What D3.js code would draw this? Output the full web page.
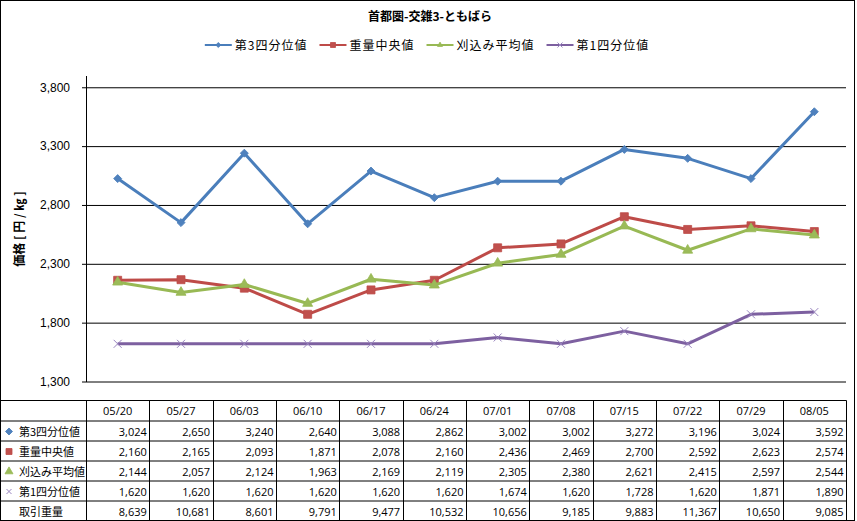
<!DOCTYPE html>
<meta charset="utf-8">
<head>
<style>
  body { margin: 0; background: #fff; }
  svg { display: block; font-family: "Open Sans", "Noto Sans CJK JP", sans-serif; }
  .title { font-family: "Noto Sans CJK JP", sans-serif; font-size: 12px; font-weight: 700; text-anchor: middle; }
  .legend text { font-family: "Noto Sans CJK JP", sans-serif; font-size: 12px; letter-spacing: 1px; }
  .y-title { font-family: "Noto Sans CJK JP", sans-serif; font-size: 12px; font-weight: 700; text-anchor: middle; }
  .y-axis text { font-size: 12px; fill: #000; }
  .y-axis line, .y-axis path, .grid line { stroke: #000; }
  .cell { font-size: 11px; fill: #000; }
  .row-label { font-family: "Noto Sans CJK JP", sans-serif; font-size: 11px; }
</style>
</head>

<script src="https://d3js.org/d3.v7.min.js"></script>

<div id="chart"></div>

<script>
  // data
  const dates = ["05/20", "05/27", "06/03", "06/10", "06/17", "06/24", "07/01", "07/08", "07/15", "07/22", "07/29", "08/05"];
  const q3 = [3024, 2650, 3240, 2640, 3088, 2862, 3002, 3002, 3272, 3196, 3024, 3592];
  const median = [2160, 2165, 2093, 1871, 2078, 2160, 2436, 2469, 2700, 2592, 2623, 2574];
  const trimmed = [2144, 2057, 2124, 1963, 2169, 2119, 2305, 2380, 2621, 2415, 2597, 2544];
  const q1 = [1620, 1620, 1620, 1620, 1620, 1620, 1674, 1620, 1728, 1620, 1871, 1890];
  const volume = [8639, 10681, 8601, 9791, 9477, 10532, 10656, 9185, 9883, 11367, 10650, 9085];
  const yTicks = [1300, 1800, 2300, 2800, 3300, 3800];
  const yDomain = [1300, 3900];

  const series = [
    { name: "第3四分位値", values: q3, line: "#4A7EBB", fill: "#4F81BD", marker: "diamond" },
    { name: "重量中央値", values: median, line: "#BE4B48", fill: "#C0504D", marker: "square" },
    { name: "刈込み平均値", values: trimmed, line: "#98B954", fill: "#9BBB59", marker: "triangle" },
    { name: "第1四分位値", values: q1, line: "#7D60A0", fill: "#8064A2", marker: "x" }
  ];

  const W = 857, H = 521;
  const plot = { left: 86, right: 846, top: 75.5, bottom: 381.5 };
  const table = { top: 400.5, header: 20.5, row: 20 };

  const svg = d3.select("#chart").append("svg")
    .attr("width", W).attr("height", H);

  svg.append("rect")
    .attr("x", 0.5).attr("y", 0.5)
    .attr("width", 854).attr("height", 520)
    .attr("fill", "#fff").attr("stroke", "#000");

  const x = d3.scaleBand().domain(dates).range([plot.left, plot.right]);
  const y = d3.scaleLinear().domain(yDomain).range([plot.bottom, plot.top]);

  function marker(type, s) {
    if (type === "diamond") return d3.symbol(d3.symbolSquare, s * s / 2)();
    if (type === "square") return d3.symbol(d3.symbolSquare, s * s)();
    if (type === "triangle") return d3.symbol(d3.symbolTriangle, Math.sqrt(3) / 4 * s * s)();
    const h = s / 2;
    return `M${-h},${-h}L${h},${h}M${-h},${h}L${h},${-h}`;
  }

  function drawMarker(g, s, type, size) {
    g.append("path")
      .attr("d", marker(type, size))
      .attr("transform", type === "diamond" ? "rotate(45)" : null)
      .attr("fill", type === "x" ? "none" : s.fill)
      .attr("stroke", type === "x" ? "#9A86C0" : s.line)
      .attr("stroke-width", type === "x" ? 1 : 0.8);
  }

  // title
  svg.append("text").attr("class", "title")
    .attr("x", 430).attr("y", 21)
    .text("首都圏-交雑3-ともばら");

  // legend
  const legend = svg.append("g").attr("class", "legend");
  let lx = 0;
  series.forEach(s => {
    const item = legend.append("g").attr("transform", `translate(${lx},0)`);
    item.append("line").attr("x1", 0).attr("x2", 27)
      .attr("y1", 0).attr("y2", 0)
      .attr("stroke", s.line).attr("stroke-width", 2);
    drawMarker(item.append("g").attr("transform", "translate(13.5,0)"), s, s.marker, 5);
    const t = item.append("text").attr("x", 30).attr("y", 4.5).text(s.name);
    lx += 30 + t.node().getComputedTextLength() + 12;
  });
  const legendW = lx - 12;
  legend.attr("transform", `translate(${427 - legendW / 2},45)`);

  // grid + axis
  svg.append("g").attr("class", "grid")
    .attr("transform", `translate(${plot.left},0)`)
    .call(d3.axisLeft(y).tickValues(yTicks).tickSize(-(plot.right - plot.left)).tickFormat(""))
    .call(g => g.select(".domain").remove());

  svg.append("g").attr("class", "y-axis")
    .attr("transform", `translate(${plot.left},0)`)
    .call(d3.axisLeft(y).tickValues(yTicks).tickSizeInner(4).tickSizeOuter(0).tickPadding(12)
      .tickFormat(d3.format(",")));

  svg.append("text").attr("class", "y-title")
    .attr("transform", `translate(24,229) rotate(-90)`)
    .text("価格 [ 円 / ㎏ ]");

  // lines and markers
  const cx = d => x(d) + x.bandwidth() / 2;
  const line = d3.line().x((d, i) => cx(dates[i])).y(d => y(d));

  series.forEach(s => {
    svg.append("path")
      .datum(s.values)
      .attr("d", line)
      .attr("fill", "none")
      .attr("stroke", s.line)
      .attr("stroke-width", 3)
      .attr("stroke-linejoin", "round");
    const size = { diamond: 8, square: 8, triangle: 10, x: 8 }[s.marker];
    s.values.forEach((v, i) => {
      drawMarker(svg.append("g").attr("transform", `translate(${cx(dates[i])},${y(v)})`), s, s.marker, size);
    });
  });

  // data table
  const rows = series.map(s => ({ name: s.name, values: s.values, s }))
    .concat([{ name: "取引重量", values: volume, s: null }]);
  const tg = svg.append("g");
  const tableBottom = table.top + table.header + rows.length * table.row;

  // horizontal rules
  const rowLines = [table.top].concat(rows.map((r, i) => table.top + table.header + i * table.row), [tableBottom - 0.5]);
  rowLines.forEach(ly => {
    tg.append("line").attr("x1", 0).attr("x2", plot.right + 0.5)
      .attr("y1", ly).attr("y2", ly).attr("stroke", "#000");
  });
  // vertical rules
  dates.forEach(d => {
    tg.append("line").attr("x1", Math.round(x(d)) + 0.5).attr("x2", Math.round(x(d)) + 0.5)
      .attr("y1", table.top).attr("y2", tableBottom).attr("stroke", "#000");
  });
  tg.append("line").attr("x1", plot.right + 0.5).attr("x2", plot.right + 0.5)
    .attr("y1", table.top).attr("y2", tableBottom).attr("stroke", "#000");

  // header
  dates.forEach(d => {
    tg.append("text").attr("class", "cell")
      .attr("x", cx(d)).attr("y", table.top + 14.5)
      .attr("text-anchor", "middle").text(d);
  });

  rows.forEach((r, i) => {
    const ry = table.top + table.header + i * table.row + 14.5;
    if (r.s) {
      const msize = { diamond: 7, square: 6, triangle: 8, x: 5 }[r.s.marker];
      drawMarker(tg.append("g").attr("transform", `translate(9,${ry - 4})`), r.s, r.s.marker, msize);
    }
    tg.append("text").attr("class", "row-label")
      .attr("x", 19).attr("y", ry).text(r.name);
    r.values.forEach((v, j) => {
      tg.append("text").attr("class", "cell")
        .attr("x", x(dates[j]) + x.bandwidth() - 2.5).attr("y", ry)
        .attr("text-anchor", "end").text(d3.format(",")(v));
    });
  });
</script>
